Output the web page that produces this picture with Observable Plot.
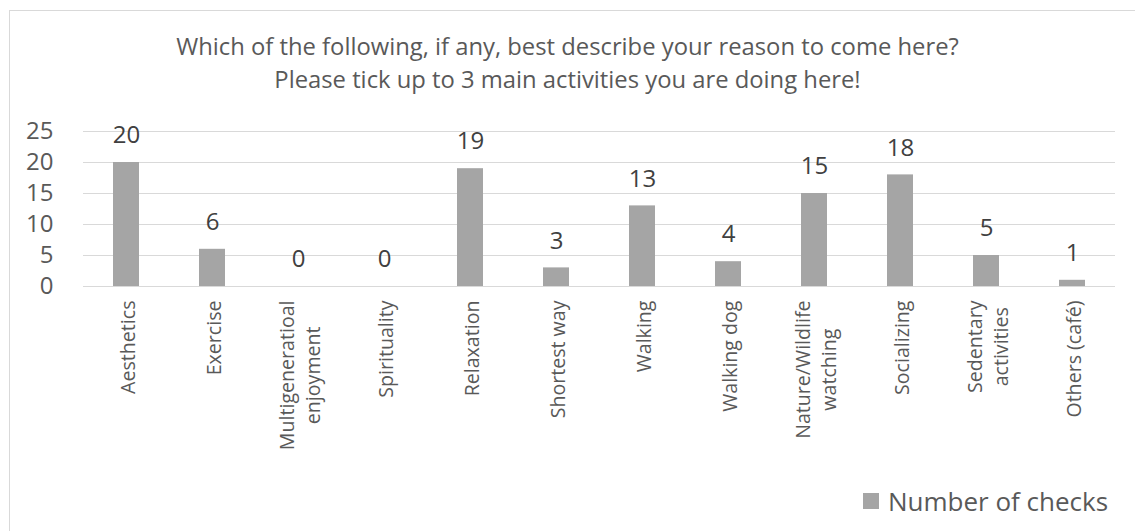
<!DOCTYPE html>
<html>
<head>
<meta charset="utf-8">
<script src="https://cdn.jsdelivr.net/npm/d3@7"></script>
<script src="https://cdn.jsdelivr.net/npm/@observablehq/plot@0.6"></script>
<style>
  html, body { margin: 0; background: #fff; font-family: "Open Sans", sans-serif; overflow: hidden; }
  #frame { position: absolute; left: 9px; top: 10px; width: 1140px; height: 540px; border: 1px solid #d9d9d9; box-sizing: border-box; }
  #title { position: absolute; left: 0; top: 30px; width: 1135px; text-align: center; font-size: 23.8px; line-height: 33px; color: #595959; }
  #chart { position: absolute; left: 0; top: 100px; }
  #legend { position: absolute; left: 863px; top: 486px; font-size: 26px; line-height: 30px; color: #595959; display: flex; align-items: center; white-space: nowrap; }
  #legend .sw { width: 16px; height: 16px; background: #a5a5a5; margin-right: 9px; }
</style>
</head>
<body>
<div id="frame"></div>
<div id="title">Which of the following, if any, best describe your reason to come here?<br>Please tick up to 3 main activities you are doing here!</div>
<div id="chart"></div>
<div id="legend"><span class="sw"></span><span>Number of checks</span></div>
<script>
const categories = ["Aesthetics", "Exercise", "Multigeneratioal enjoyment", "Spirituality", "Relaxation", "Shortest way", "Walking", "Walking dog", "Nature/Wildlife watching", "Socializing", "Sedentary activities", "Others (café)"];
const tickLabels = ["Aesthetics", "Exercise", "Multigeneratioal\nenjoyment", "Spirituality", "Relaxation", "Shortest way", "Walking", "Walking dog", "Nature/Wildlife\nwatching", "Socializing", "Sedentary\nactivities", "Others (café)"];
const checks = [20, 6, 0, 0, 19, 3, 13, 4, 15, 18, 5, 1];
const yTicks = [0, 5, 10, 15, 20, 25];

const data = categories.map((c, i) => ({category: c, label: tickLabels[i], value: checks[i]}));

const plot = Plot.plot({
  width: 1135,
  height: 360,
  marginTop: 31,
  marginBottom: 174,
  marginLeft: 83,
  marginRight: 20,
  style: {fontFamily: "'Open Sans', sans-serif", background: "transparent", color: "#595959"},
  x: {domain: categories, paddingInner: 0.698, paddingOuter: 0.349, axis: null},
  y: {domain: [0, 25]},
  marks: [
    Plot.gridY(yTicks, {stroke: "#d9d9d9", strokeOpacity: 1, strokeWidth: 1}),
    Plot.axisY(yTicks, {tickSize: 0, tickPadding: 30, fontSize: 24, fill: "#595959", tickFormat: d => String(d), label: null}),
    Plot.barY(data, {x: "category", y: "value", fill: "#a5a5a5"}),
    Plot.text(data, {x: "category", y: "value", text: d => String(d.value), dy: -27, fontSize: 24, fill: "#404040"}),
    Plot.text(data, {x: "category", text: "label", frameAnchor: "bottom", dy: 14, rotate: -90, textAnchor: "end", lineAnchor: "middle", lineHeight: 1.35, fontSize: 19.6, fill: "#595959", className: "xlab"})
  ]
});
document.getElementById("chart").append(plot);

// center multi-line rotated labels relative to each other, top-aligned block
plot.querySelectorAll(".xlab text").forEach(t => {
  const spans = t.querySelectorAll("tspan");
  const lens = spans.length ? [...spans].map(s => s.getComputedTextLength()) : [t.getComputedTextLength()];
  const max = Math.max(...lens);
  t.setAttribute("text-anchor", "middle");
  const tr = t.getAttribute("transform") || "";
  t.setAttribute("transform", tr + ` translate(${-max / 2},0)`);
});
</script>
</body>
</html>
